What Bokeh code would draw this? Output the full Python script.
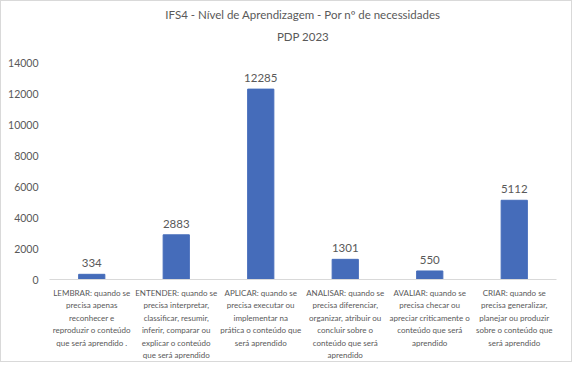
from bokeh.plotting import figure
from bokeh.models import ColumnDataSource, Title, Range1d, FixedTicker, CustomJSTickFormatter
from bokeh.core.properties import value
from bokeh.embed import file_html
from bokeh.resources import INLINE

title_line1 = "IFS4 - Nível de Aprendizagem - Por nº de necessidades"
title_line2 = "PDP 2023"
categories = ["LEMBRAR", "ENTENDER", "APLICAR", "ANALISAR", "AVALIAR", "CRIAR"]
category_labels = [
    "LEMBRAR: quando se\nprecisa apenas\nreconhecer e\nreproduzir o conteúdo\nque será aprendido .",
    "ENTENDER: quando se\nprecisa interpretar,\nclassificar, resumir,\ninferir, comparar ou\nexplicar o conteúdo\nque será aprendido",
    "APLICAR: quando se\nprecisa executar ou\nimplementar na\nprática o conteúdo que\nserá aprendido",
    "ANALISAR: quando se\nprecisa diferenciar,\norganizar, atribuir ou\nconcluir sobre o\nconteúdo que será\naprendido",
    "AVALIAR: quando se\nprecisa checar ou\napreciar criticamente o\nconteúdo que será\naprendido",
    "CRIAR: quando se\nprecisa generalizar,\nplanejar ou produzir\nsobre o conteúdo que\nserá aprendido",
]
values = [334, 2883, 12285, 1301, 550, 5112]
y_ticks = [0, 2000, 4000, 6000, 8000, 10000, 12000, 14000]

FONT = "Lato"
GRAY = "#595959"
BAR = "#456CBA"

xpos = [i + 0.5 for i in range(len(categories))]
src = ColumnDataSource(dict(x=xpos, val=values, lbl=[str(v) for v in values]))

p = figure(width=572, height=362, x_range=Range1d(0, len(categories)), y_range=Range1d(0, 15100),
           output_backend="svg", toolbar_location=None,
           min_border_left=48, min_border_right=17, min_border_bottom=83, min_border_top=5)

p.add_layout(Title(text=title_line2, align="center", text_font=FONT, text_font_size="11.5px",
                   text_color=GRAY, text_font_style="normal", padding=3,
                   standoff=0), "above")
p.add_layout(Title(text=title_line1, align="center", text_font=FONT, text_font_size="11.5px",
                   text_color=GRAY, text_font_style="normal", padding=4,
                   standoff=0), "above")

p.vbar(x="x", top="val", width=0.31, source=src, color=BAR)
p.text(x="x", y="val", text="lbl", source=src, text_align="center", text_baseline="bottom",
       y_offset=-7, text_font=value(FONT), text_font_size="11.5px", text_color=GRAY)

p.xgrid.visible = False
p.ygrid.visible = False
p.outline_line_color = None

p.yaxis.ticker = y_ticks
p.yaxis.axis_line_color = None
p.yaxis.major_tick_line_color = None
p.yaxis.minor_tick_line_color = None
p.yaxis.major_label_text_font = FONT
p.yaxis.major_label_text_font_size = "10.5px"
p.yaxis.major_label_text_color = GRAY
p.yaxis.major_label_standoff = 5

p.xaxis.ticker = FixedTicker(ticks=xpos)
p.xaxis.formatter = CustomJSTickFormatter(args=dict(labels=category_labels),
                                          code="return labels[Math.floor(tick)];")
p.xaxis.axis_line_color = "#D9D9D9"
p.xaxis.major_tick_line_color = None
p.xaxis.minor_tick_line_color = None
p.xaxis.major_label_text_font = FONT
p.xaxis.major_label_text_font_size = "8px"
p.xaxis.major_label_text_color = GRAY
p.xaxis.major_label_text_line_height = 1.25
p.xaxis.major_label_standoff = 2
p.xaxis.major_label_orientation = "horizontal"

p.styles = {"border": "1px solid #D9D9D9", "box-sizing": "border-box"}

open("out.html", "w").write(file_html(p, INLINE))
